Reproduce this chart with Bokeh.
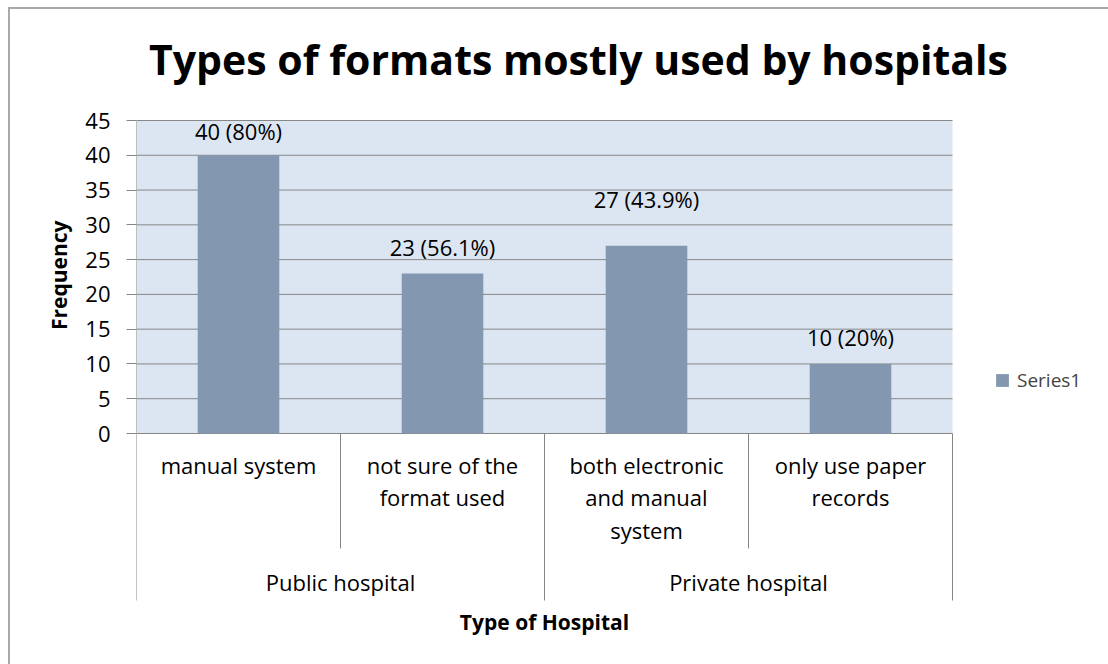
from bokeh.plotting import figure
from bokeh.models import (Range1d, FixedTicker, Label, Legend, LegendItem, BoxAnnotation,
                          Title, InlineStyleSheet)
from bokeh.core.properties import value
from bokeh.embed import file_html
from bokeh.resources import INLINE

# ---- data ----
groups = ["Public hospital", "Private hospital"]
group_span = [2, 2]
categories = ["manual system", "not sure of the\nformat used",
              "both electronic\nand manual\nsystem", "only use paper\nrecords"]
frequency = [40, 23, 27, 10]
bar_labels = ["40 (80%)", "23 (56.1%)", "27 (43.9%)", "10 (20%)"]
y_ticks = [0, 5, 10, 15, 20, 25, 30, 35, 40, 45]
series_name = "Series1"
title_text = "Types of formats mostly used by hospitals"
x_title = "Type of Hospital"
y_title = "Frequency"

# ---- style / layout (pixels) ----
W, H = 1108, 664
FL = 136                 # left edge of plot area
PA_R = 952               # right edge of plot area
PA_T = 120               # top of plot area (y = 45)
Y0_PX = 433              # row of y = 0
AX_B = 600               # bottom of category axis
LVL1_B = 548             # bottom of inner category level
NCAT = len(categories)
YMAX = y_ticks[-1]
PPU = (Y0_PX - PA_T) / YMAX
XPPU = (PA_R - FL) / NCAT

FONT = "Open Sans"
BAR = "#8497b0"
BG = "#dce6f2"
GRID = "#878787"
AXIS = "#868686"
FS = "22px"
label_offsets_px = [24, 27, 47, 27]


def dx(px):
    return (px - FL) / XPPU


def dy(py):
    return (Y0_PX - py) / PPU


p = figure(width=W, height=H, output_backend="svg", toolbar_location=None,
           x_range=Range1d(0, dx(W)), y_range=Range1d(dy(H), dy(0)),
           x_axis_location=None,
           min_border_left=FL, min_border_right=0, min_border_top=0, min_border_bottom=0)
p.outline_line_color = None
p.background_fill_color = "white"
p.border_fill_color = "white"
p.xgrid.visible = False
p.ygrid.visible = False

# outer chart border (decorative)
p.stylesheets = [InlineStyleSheet(css=":host{position:relative;} :host::after{content:'';"
                                  "position:absolute;left:8px;top:7px;right:0;bottom:0;"
                                  "border-left:2px solid #a9a9a9;border-top:2px solid #a9a9a9;"
                                  "pointer-events:none;}")]

# plot-area background
p.add_layout(BoxAnnotation(left=0, right=NCAT, bottom=0, top=YMAX, fill_color=BG,
                           fill_alpha=1, line_color=None, level="image"))

# horizontal gridlines from the tick values
grid_y = y_ticks[1:]
p.segment(x0=[0] * len(grid_y), y0=grid_y, x1=[NCAT] * len(grid_y), y1=grid_y,
          line_color=GRID, line_width=1, level="underlay")

# y axis (ticks + labels); axis line drawn as part of the category separators
ya = p.yaxis[0]
ya.ticker = FixedTicker(ticks=y_ticks)
ya.minor_tick_line_color = None
ya.major_tick_in = 0
ya.major_tick_out = 10
ya.major_tick_line_color = AXIS
ya.axis_line_color = None
ya.major_label_text_font = FONT
ya.major_label_text_font_size = FS
ya.major_label_text_color = "black"
ya.major_label_standoff = 16

# y title on the left side (its top end placed at pixel row 220)
yt = Title(text=y_title, align="right", offset=220,
           text_font=FONT, text_font_style="bold", text_font_size="21px",
           text_color="black", standoff=20)
p.add_layout(yt, "left")

# x axis line at 0
p.segment(x0=[0], y0=[0], x1=[NCAT], y1=[0], line_color=AXIS, line_width=1)

# bars
x = [i + 0.5 for i in range(NCAT)]
bars = p.vbar(x=x, top=frequency, bottom=0, width=0.4, fill_color=BAR, line_color=None)

# data labels
for xi, v, t, off in zip(x, frequency, bar_labels, label_offsets_px):
    p.text(x=[xi], y=[v], text=[t], y_offset=-off, text_align="center",
           text_baseline="middle", text_font=value(FONT), text_font_size=FS,
           text_color="black")

# category labels
p.text(x=x, y=[0] * NCAT, text=categories, y_offset=16, text_align="center",
       text_baseline="top", text_font=value(FONT), text_font_size=FS,
       text_line_height=1.09, text_color="black")

# group labels
gx = []
start = 0
for s in group_span:
    gx.append(start + s / 2)
    start += s
p.text(x=gx, y=[0] * len(groups), text=groups, y_offset=148, text_align="center",
       text_baseline="middle", text_font=value(FONT), text_font_size=FS,
       text_color="black")

# separators (left one doubles as the value-axis line)
bounds = set()
start = 0
for s in group_span:
    bounds.add(start)
    start += s
bounds.add(start)
sep_x, sep_top, sep_bottom = [], [], []
for i in range(NCAT + 1):
    sep_x.append(i)
    sep_top.append(YMAX if i == 0 else 0)
    sep_bottom.append(dy(AX_B) if i in bounds else dy(LVL1_B))
p.segment(x0=sep_x, y0=sep_top, x1=sep_x, y1=sep_bottom, line_color=AXIS, line_width=1)

# titles
p.add_layout(Label(x=dx(578), y=dy(58), text=title_text, text_align="center",
                   text_baseline="middle", text_font=FONT, text_font_style="bold",
                   text_font_size="41px", text_color="black"))
p.add_layout(Label(x=dx(544), y=dy(621), text=x_title, text_align="center",
                   text_baseline="middle", text_font=FONT, text_font_style="bold",
                   text_font_size="21px", text_color="black"))

# legend
leg = Legend(items=[LegendItem(label=series_name, renderers=[bars])],
             location=(994 - FL, H - 393), orientation="vertical",
             glyph_width=16, glyph_height=16, label_standoff=7,
             label_text_font=FONT, label_text_font_size="19px",
             border_line_color=None, background_fill_alpha=0,
             padding=0, margin=0, spacing=0, label_height=22)
p.add_layout(leg)

open("out.html", "w").write(file_html(p, INLINE))
